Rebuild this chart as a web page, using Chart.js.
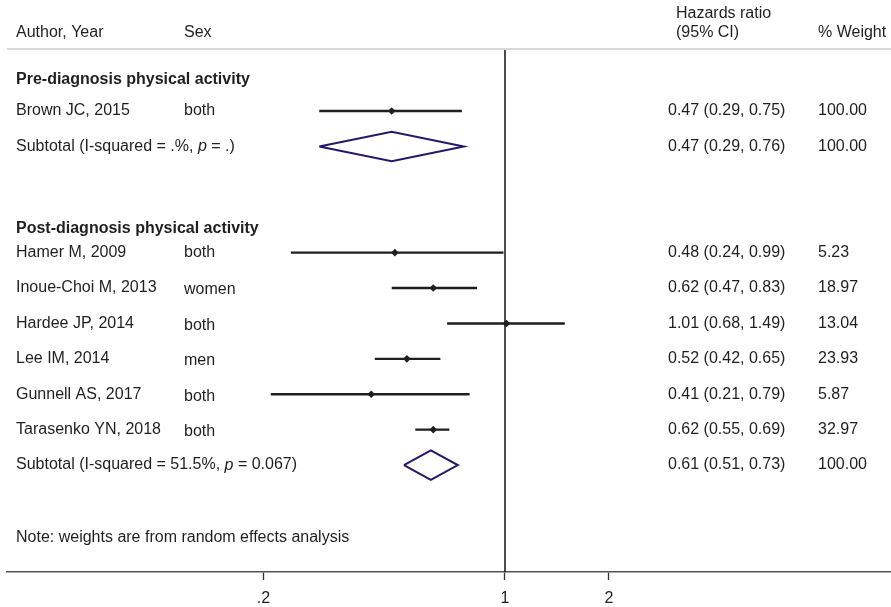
<!DOCTYPE html>
<html>
<head>
<meta charset="utf-8">
<script src="https://cdn.jsdelivr.net/npm/chart.js@4"></script>
<style>
  body { margin: 0; background: #fff; }
  canvas { display: block; }
</style>
</head>
<body>
<canvas id="forest" width="891" height="607"></canvas>
<script>
// study rows
const authors = ['Brown JC, 2015', 'Hamer M, 2009', 'Inoue-Choi M, 2013', 'Hardee JP, 2014', 'Lee IM, 2014', 'Gunnell AS, 2017', 'Tarasenko YN, 2018'];
const sexes = ['both', 'both', 'women', 'both', 'men', 'both', 'both'];
const hr = [0.47, 0.48, 0.62, 1.01, 0.52, 0.41, 0.62];
const lower = [0.29, 0.24, 0.47, 0.68, 0.42, 0.21, 0.55];
const upper = [0.75, 0.99, 0.83, 1.49, 0.65, 0.79, 0.69];
const studyWeights = ['100.00', '5.23', '18.97', '13.04', '23.93', '5.87', '32.97'];
const rows = [1, 5, 6, 7, 8, 9, 10];

// subtotals
const subI2 = ['.%', '51.5%'];
const subP = ['.', '0.067'];
const subHr = [0.47, 0.61];
const subLower = [0.29, 0.51];
const subUpper = [0.76, 0.73];
const subWeights = ['100.00', '100.00'];
const subRows = [2, 11];

const groupTitles = ['Pre-diagnosis physical activity', 'Post-diagnosis physical activity'];
const xTicks = [0.2, 1, 2];
const xTickLabels = ['.2', '1', '2'];

const FONT = "'Liberation Sans', Arial, Helvetica, sans-serif";
const TEXT = '#1f1f1f';
const NAVY = '#25176a';
const DIAMOND_HALF = 0.415;

Chart.defaults.font.family = FONT;

function fmt(v) { return v.toFixed(2); }

// CI segments as one line dataset with gaps
const ciData = [];
rows.forEach((r, i) => {
    ciData.push({ x: lower[i], y: r }, { x: upper[i], y: r }, { x: upper[i], y: null });
});

const pointData = rows.map((r, i) => ({ x: hr[i], y: r }));

const diamondData = [];
subRows.forEach((r, i) => {
    diamondData.push(
        { x: subLower[i], y: r },
        { x: subHr[i], y: r - DIAMOND_HALF },
        { x: subUpper[i], y: r },
        { x: subHr[i], y: r + DIAMOND_HALF },
        { x: subLower[i], y: r },
        { x: subLower[i], y: null }
    );
});

function drawRuns(ctx, runs, x, y) {
    runs.forEach(([txt, italic]) => {
        ctx.font = (italic ? 'italic ' : '') + '16px ' + FONT;
        ctx.fillText(txt, x, y);
        x += ctx.measureText(txt).width;
    });
}

const forestText = {
    id: 'forestText',
    beforeDatasetsDraw(chart) {
        const { ctx, chartArea, scales } = chart;
        const x1 = scales.x.getPixelForValue(1);
        ctx.save();
        ctx.strokeStyle = '#111';
        ctx.lineWidth = 1.5;
        ctx.beginPath();
        ctx.moveTo(x1, chartArea.top);
        ctx.lineTo(x1, chartArea.bottom);
        ctx.stroke();
        ctx.restore();
    },
    afterDraw(chart) {
        const { ctx, scales } = chart;
        const y = scales.y;
        ctx.save();
        // header rule
        ctx.strokeStyle = '#d9d9d9';
        ctx.lineWidth = 2;
        ctx.beginPath();
        ctx.moveTo(7, 49);
        ctx.lineTo(891, 49);
        ctx.stroke();

        ctx.fillStyle = TEXT;
        ctx.textBaseline = 'middle';
        ctx.textAlign = 'left';
        ctx.font = '16px ' + FONT;
        ctx.fillText('Author, Year', 16, 33);
        ctx.fillText('Sex', 184, 33);
        ctx.fillText('Hazards ratio', 676, 14);
        ctx.fillText('(95% CI)', 676, 33);
        ctx.fillText('% Weight', 818, 33);

        ctx.font = 'bold 16px ' + FONT;
        ctx.fillText(groupTitles[0], 16, 80);
        ctx.fillText(groupTitles[1], 16, 229);

        ctx.font = '16px ' + FONT;
        rows.forEach((r, i) => {
            const py = y.getPixelForValue(r);
            ctx.fillText(authors[i], 16, py);
            // Stata sets the sex column a touch lower from the third study on
            ctx.fillText(sexes[i], 184, py + (i >= 2 ? 2 : 0));
            ctx.fillText(fmt(hr[i]) + ' (' + fmt(lower[i]) + ', ' + fmt(upper[i]) + ')', 668, py);
            ctx.fillText(studyWeights[i], 818, py);
        });

        subRows.forEach((r, i) => {
            const py = y.getPixelForValue(r);
            drawRuns(ctx, [['Subtotal (I-squared = ' + subI2[i] + ', ', false], ['p', true], [' = ' + subP[i] + ')', false]], 16, py);
            ctx.font = '16px ' + FONT;
            ctx.fillText(fmt(subHr[i]) + ' (' + fmt(subLower[i]) + ', ' + fmt(subUpper[i]) + ')', 668, py);
            ctx.fillText(subWeights[i], 818, py);
        });

        ctx.font = '16px ' + FONT;
        ctx.fillText('Note: weights are from random effects analysis', 16, 538);
        ctx.restore();
    }
};

new Chart(document.getElementById('forest').getContext('2d'), {
    type: 'scatter',
    data: {
        datasets: [
            {
                label: 'CI',
                data: ciData,
                showLine: true,
                spanGaps: false,
                borderColor: '#1f1f1f',
                borderWidth: 2.4,
                pointRadius: 0
            },
            {
                label: 'Subtotal',
                data: diamondData,
                showLine: true,
                spanGaps: false,
                borderColor: NAVY,
                borderWidth: 2,
                borderJoinStyle: 'miter',
                pointRadius: 0
            },
            {
                label: 'Estimate',
                data: pointData,
                pointStyle: 'rectRot',
                pointRadius: 3.8,
                backgroundColor: '#1f1f1f',
                borderColor: '#1f1f1f',
                borderWidth: 0
            }
        ]
    },
    options: {
        responsive: false,
        animation: false,
        layout: { autoPadding: false, padding: { left: 7, right: 0, top: 49, bottom: 0 } },
        plugins: {
            legend: { display: false },
            tooltip: { enabled: false }
        },
        scales: {
            x: {
                type: 'logarithmic',
                position: 'bottom',
                min: 0.03619,
                max: 13.1,
                bounds: 'data',
                afterBuildTicks: (scale) => {
                    scale.ticks = xTicks.map(v => ({ value: v }));
                },
                afterFit: (scale) => {
                    scale.height = 35;
                    scale.paddingLeft = 0;
                    scale.paddingRight = 0;
                },
                border: { display: true, color: '#555', width: 1.6 },
                grid: { drawOnChartArea: false, drawTicks: true, tickLength: 8, tickColor: '#333', tickWidth: 1.3 },
                ticks: {
                    padding: 9,
                    color: TEXT,
                    font: { size: 16 },
                    maxRotation: 0,
                    autoSkip: false,
                    callback: (v) => {
                        const i = xTicks.indexOf(v);
                        return i >= 0 ? xTickLabels[i] : '';
                    }
                }
            },
            y: {
                type: 'linear',
                display: false,
                reverse: true,
                min: -0.7514,
                max: 14.02
            }
        }
    },
    plugins: [forestText]
});
</script>
</body>
</html>
